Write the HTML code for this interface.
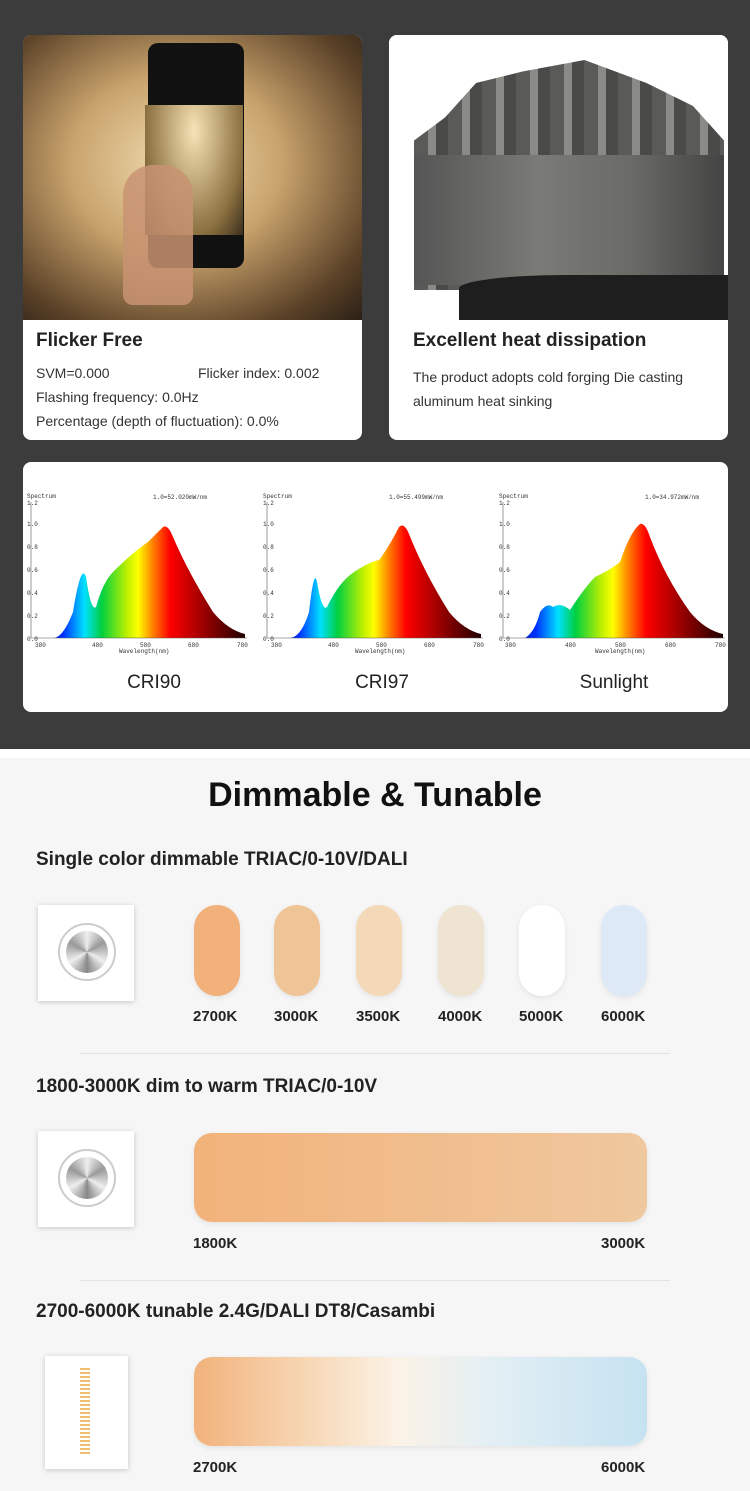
<!DOCTYPE html>
<html><head><meta charset="utf-8"><style>
body{margin:0;width:750px;height:1491px;overflow:hidden;font-family:"Liberation Sans",sans-serif;background:#f6f6f6;position:relative}
.dark{position:absolute;left:0;top:0;width:750px;height:749px;background:#3c3c3c}
.strip{position:absolute;left:0;top:749px;width:750px;height:9px;background:#fff}
.card{position:absolute;background:#fff;border-radius:8px;overflow:hidden}
.t{position:absolute;color:#222}
.pill{position:absolute;top:905px;width:46px;height:91px;border-radius:23px;box-shadow:0 2px 6px rgba(0,0,0,.08)}
.lbl{position:absolute;font-weight:bold;font-size:15px;color:#222}
.sw{position:absolute;background:#fff;box-shadow:0 1px 5px rgba(0,0,0,.2)}
.hr{position:absolute;left:80px;width:590px;height:1px;background:#e4e4e4}
</style></head><body>
<div class="dark"></div><div class="strip"></div>

<div class="card" style="left:23px;top:35px;width:339px;height:405px">
 <div style="position:absolute;left:0;top:0;width:339px;height:285px;background:radial-gradient(ellipse at 45% 45%,#f0dcb0 0%,#c9a36c 40%,#5a4127 80%,#2a2016 100%)"></div>
 <div style="position:absolute;left:125px;top:8px;width:96px;height:225px;background:#111;border-radius:10px"></div>
 <div style="position:absolute;left:122px;top:70px;width:98px;height:130px;background:radial-gradient(ellipse at 50% 20%,#f7e3b6,#8b7040 70%,#3a2e1c)"></div>
 <div style="position:absolute;left:100px;top:130px;width:70px;height:140px;background:#c89372;border-radius:30px 30px 10px 10px;opacity:.85"></div>
 <div class="t" style="left:13px;top:295px;font-size:19px;font-weight:bold">Flicker Free</div>
 <div class="t" style="left:13px;top:330px;font-size:14px;color:#333">SVM=0.000</div>
 <div class="t" style="left:175px;top:330px;font-size:14px;color:#333">Flicker index: 0.002</div>
 <div class="t" style="left:13px;top:354px;font-size:14px;color:#333">Flashing frequency: 0.0Hz</div>
 <div class="t" style="left:13px;top:378px;font-size:14px;color:#333">Percentage (depth of fluctuation): 0.0%</div>
</div>

<div class="card" style="left:389px;top:35px;width:339px;height:405px">
 <div style="position:absolute;left:0;top:0;width:339px;height:285px;background:#fff"></div>
 <div style="position:absolute;left:25px;top:25px;width:310px;height:230px;background:repeating-linear-gradient(90deg,#5a5a58 0 14px,#8a8a86 14px 22px,#4a4a48 22px 34px);clip-path:polygon(0 35%,10% 25%,20% 10%,35% 5%,55% 0,75% 10%,90% 20%,100% 35%,100% 100%,0 100%)"></div>
 <div style="position:absolute;left:25px;top:120px;width:310px;height:130px;background:linear-gradient(90deg,#555,#7a7a76 40%,#6a6a66 70%,#444)"></div>
 <div style="position:absolute;left:70px;top:240px;width:269px;height:45px;background:#1e1e1e;border-radius:40% 0 0 0/30% 0 0 0"></div>
 <div class="t" style="left:24px;top:295px;font-size:19px;font-weight:bold">Excellent heat dissipation</div>
 <div class="t" style="left:24px;top:330px;font-size:14px;color:#333;line-height:24px;width:300px">The product adopts cold forging Die casting aluminum heat sinking</div>
</div>

<div class="card" style="left:23px;top:462px;width:705px;height:250px">
<svg width="705" height="250" style="position:absolute;left:0;top:0">
<defs><linearGradient id="sp" x1="0" x2="1"><stop offset="0" stop-color="#0000a0"/><stop offset=".15" stop-color="#0030ff"/><stop offset=".25" stop-color="#00e0ff"/><stop offset=".33" stop-color="#00d040"/><stop offset=".45" stop-color="#c0f000"/><stop offset=".5" stop-color="#ffff00"/><stop offset=".57" stop-color="#ff8000"/><stop offset=".65" stop-color="#ff0000"/><stop offset=".8" stop-color="#a00000"/><stop offset="1" stop-color="#200000"/></linearGradient></defs>
<g font-family="Liberation Mono,monospace" font-size="6" fill="#333">
<g transform="translate(0,0)">
 <path d="M8,176 L30,176 Q40,176 50,150 Q58,100 63,115 Q68,150 73,145 Q80,120 90,110 Q110,90 125,80 Q135,70 140,65 Q145,62 150,75 Q165,110 190,150 Q205,168 222,172 L222,176 Z" fill="url(#sp)"/>
 <line x1="8" y1="40" x2="8" y2="176" stroke="#555" stroke-width=".6"/><line x1="8" y1="176" x2="224" y2="176" stroke="#555" stroke-width=".6"/>
 <text x="4" y="36">Spectrum</text><text x="4" y="43">1.2</text><text x="4" y="64">1.0</text><text x="4" y="87">0.8</text><text x="4" y="110">0.6</text><text x="4" y="133">0.4</text><text x="4" y="156">0.2</text><text x="4" y="179">0.0</text>
 <text x="130" y="37">1.0=52.020mW/nm</text>
 <text x="12" y="185">380</text><text x="69" y="185">480</text><text x="117" y="185">580</text><text x="165" y="185">680</text><text x="214" y="185">780</text>
 <text x="96" y="191">Wavelength(nm)</text>
</g>
<g transform="translate(236,0)">
 <path d="M8,176 L30,176 Q42,176 50,150 Q55,105 58,120 Q63,150 68,145 Q80,120 95,110 Q110,100 120,98 Q130,85 140,65 Q145,60 150,72 Q165,110 190,150 Q205,168 222,172 L222,176 Z" fill="url(#sp)"/>
 <line x1="8" y1="40" x2="8" y2="176" stroke="#555" stroke-width=".6"/><line x1="8" y1="176" x2="224" y2="176" stroke="#555" stroke-width=".6"/>
 <text x="4" y="36">Spectrum</text><text x="4" y="43">1.2</text><text x="4" y="64">1.0</text><text x="4" y="87">0.8</text><text x="4" y="110">0.6</text><text x="4" y="133">0.4</text><text x="4" y="156">0.2</text><text x="4" y="179">0.0</text>
 <text x="130" y="37">1.0=55.499mW/nm</text>
 <text x="12" y="185">380</text><text x="69" y="185">480</text><text x="117" y="185">580</text><text x="165" y="185">680</text><text x="214" y="185">780</text>
 <text x="96" y="191">Wavelength(nm)</text>
</g>
<g transform="translate(472,0)">
 <path d="M8,176 L30,176 Q40,170 45,150 Q52,140 58,145 Q66,140 75,148 Q90,125 100,115 Q115,108 125,100 Q135,70 145,62 Q150,60 155,75 Q170,115 195,150 Q210,168 228,172 L228,176 Z" fill="url(#sp)"/>
 <line x1="8" y1="40" x2="8" y2="176" stroke="#555" stroke-width=".6"/><line x1="8" y1="176" x2="230" y2="176" stroke="#555" stroke-width=".6"/>
 <text x="4" y="36">Spectrum</text><text x="4" y="43">1.2</text><text x="4" y="64">1.0</text><text x="4" y="87">0.8</text><text x="4" y="110">0.6</text><text x="4" y="133">0.4</text><text x="4" y="156">0.2</text><text x="4" y="179">0.0</text>
 <text x="150" y="37">1.0=34.972mW/nm</text>
 <text x="10" y="185">380</text><text x="70" y="185">480</text><text x="120" y="185">580</text><text x="170" y="185">680</text><text x="220" y="185">780</text>
 <text x="100" y="191">Wavelength(nm)</text>
</g>
</g>
<g font-family="Liberation Sans,sans-serif" font-size="19" fill="#222" text-anchor="middle"><text x="131" y="226">CRI90</text><text x="359" y="226">CRI97</text><text x="591" y="226">Sunlight</text></g>
</svg>
</div>

<div class="t" style="left:0;width:750px;text-align:center;top:776px;font-size:34px;font-weight:bold;color:#111">Dimmable &amp; Tunable</div>
<div class="t" style="left:36px;top:849px;font-size:19px;font-weight:bold">Single color dimmable TRIAC/0-10V/DALI</div>

<div class="sw" style="left:38px;top:905px;width:96px;height:96px"></div>
<div style="position:absolute;left:58px;top:923px;width:58px;height:58px;border-radius:50%;border:2px solid #ccc;box-sizing:border-box"></div>
<div style="position:absolute;left:66px;top:931px;width:42px;height:42px;border-radius:50%;background:conic-gradient(#eee,#999,#eee,#888,#eee,#999,#eee)"></div>

<div class="pill" style="left:194px;background:#f2b07a"></div>
<div class="pill" style="left:274px;background:#efc497"></div>
<div class="pill" style="left:356px;background:#f4d9b8"></div>
<div class="pill" style="left:438px;background:#efe3d1"></div>
<div class="pill" style="left:519px;background:#ffffff"></div>
<div class="pill" style="left:601px;background:#dde9f7"></div>
<div class="lbl" style="left:193px;top:1008px">2700K</div>
<div class="lbl" style="left:274px;top:1008px">3000K</div>
<div class="lbl" style="left:356px;top:1008px">3500K</div>
<div class="lbl" style="left:438px;top:1008px">4000K</div>
<div class="lbl" style="left:519px;top:1008px">5000K</div>
<div class="lbl" style="left:601px;top:1008px">6000K</div>
<div class="hr" style="top:1053px"></div>

<div class="t" style="left:36px;top:1076px;font-size:19px;font-weight:bold">1800-3000K dim to warm TRIAC/0-10V</div>
<div class="sw" style="left:38px;top:1131px;width:96px;height:96px"></div>
<div style="position:absolute;left:58px;top:1149px;width:58px;height:58px;border-radius:50%;border:2px solid #ccc;box-sizing:border-box"></div>
<div style="position:absolute;left:66px;top:1157px;width:42px;height:42px;border-radius:50%;background:conic-gradient(#eee,#999,#eee,#888,#eee,#999,#eee)"></div>
<div style="position:absolute;left:194px;top:1133px;width:453px;height:89px;border-radius:18px;background:linear-gradient(90deg,#f2b27a,#efc89f);box-shadow:0 2px 6px rgba(0,0,0,.08)"></div>
<div class="lbl" style="left:193px;top:1235px">1800K</div>
<div class="lbl" style="left:601px;top:1235px">3000K</div>
<div class="hr" style="top:1280px"></div>

<div class="t" style="left:36px;top:1301px;font-size:19px;font-weight:bold">2700-6000K tunable 2.4G/DALI DT8/Casambi</div>
<div class="sw" style="left:45px;top:1356px;width:83px;height:113px"></div>
<div style="position:absolute;left:80px;top:1368px;width:10px;height:88px;background:repeating-linear-gradient(180deg,#f0c070 0 2px,#fff 2px 4px)"></div>
<div style="position:absolute;left:194px;top:1357px;width:453px;height:89px;border-radius:18px;background:linear-gradient(90deg,#f2b27c,#f7d7b5 25%,#fbf2e6 45%,#e3eff4 65%,#c6e2f1);box-shadow:0 2px 6px rgba(0,0,0,.08)"></div>
<div class="lbl" style="left:193px;top:1459px">2700K</div>
<div class="lbl" style="left:601px;top:1459px">6000K</div>
</body></html>
